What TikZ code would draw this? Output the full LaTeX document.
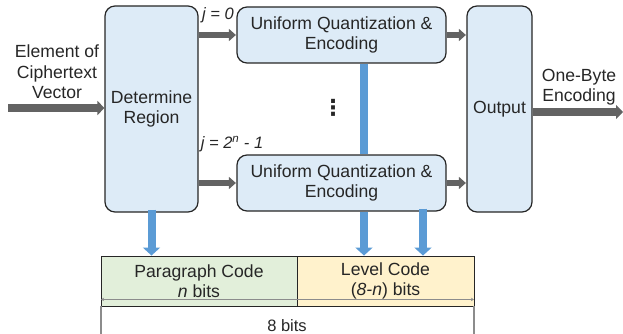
\documentclass[tikz,border=0pt]{standalone}
\usepackage{fontspec}
\setmainfont{Liberation Sans}
\newfontfamily\symfont{DejaVu Sans}
\usetikzlibrary{arrows.meta}

\definecolor{boxfill}{HTML}{DDEBF7}
\definecolor{boxline}{HTML}{262626}
\definecolor{flowgray}{HTML}{636363}
\definecolor{flowblue}{HTML}{5B9BD5}
\definecolor{codegreen}{HTML}{E2EFDA}
\definecolor{codeyellow}{HTML}{FFF2CC}
\definecolor{dimgray}{HTML}{8C8C8C}

\tikzset{
  blockbox/.style={draw=boxline, fill=boxfill, line width=1.2pt, rounded corners=10pt,
    align=center, inner sep=0pt},
  codebox/.style={draw=boxline, line width=0.9pt, align=center, inner sep=0pt,
    minimum height=50pt},
  grayflow/.style={draw=flowgray, line width=6pt,
    -{Triangle[length=7pt,width=12pt]}, shorten >=0.5pt},
  bigflow/.style={draw=flowgray, line width=8pt,
    -{Triangle[length=7pt,width=14pt]}},
  blueflow/.style={draw=flowblue, line width=8pt,
    -{Triangle[length=8pt,width=17pt]}},
  bluebar/.style={draw=flowblue, line width=8pt},
  dimline/.style={draw=dimgray, line width=0.7pt, {Stealth[length=3pt,width=3.5pt]}-{Stealth[length=3pt,width=3.5pt]}},
  extline/.style={draw=dimgray, line width=1.8pt},
  lbl/.style={align=center, inner sep=0pt},
  every node/.append style={font=\fontsize{17.6}{20.5}\selectfont, text=black!85}
}

\begin{document}
\begin{tikzpicture}[x=1pt, y=-1pt]
\useasboundingbox (0,0) rectangle (623,334);

% main blocks
\node[blockbox, minimum width=93pt, minimum height=206pt] (det) at (151.5,109) {Determine\\Region};
\node[blockbox, minimum width=209pt, minimum height=56pt] (uq1) at (341.5,35) {Uniform Quantization \&\\Encoding};
\node[blockbox, minimum width=209pt, minimum height=56pt] (uq2) at (341.5,183) {Uniform Quantization \&\\Encoding};
\node[blockbox, minimum width=65pt, minimum height=206pt] (out) at (499.5,109) {Output};

% output code fields
\node[codebox, fill=codegreen, minimum width=196pt] (para) at (199,281) {Paragraph Code\\\textit{n} bits};
\node[codebox, fill=codeyellow, minimum width=177pt] (lvl) at (385.5,281) {Level Code\\(\textit{8-n}) bits};

% labels
\node[lbl] (inlbl) at (57,72) {Element of\\Ciphertext\\Vector};
\node[lbl] (outlbl) at (579,87) {One-Byte\\Encoding};
\node[lbl, font=\fontsize{16.5}{19}\selectfont\itshape] (j0) at (218,15) {j = 0};
\node[lbl, font=\fontsize{16.5}{19}\selectfont\itshape] (jn) at (232,144) {j = 2\textsuperscript{n} - 1};
\node[lbl, font=\fontsize{22}{24}\selectfont\symfont\bfseries] (dots) at (333,108) {⋮};
\node[lbl, font=\fontsize{16.5}{19}\selectfont] (width) at (287,326) {8 bits};

% gray data flow
\coordinate (src) at (8,108);
\coordinate (dst) at (623,112);
\draw[bigflow] (src) -- (src -| det.west);
\draw[grayflow] (det.east |- uq1.west) -- (uq1.west);
\draw[grayflow] (det.east |- uq2.west) -- (uq2.west);
\draw[grayflow] (uq1.east) -- (uq1.east -| out.west);
\draw[grayflow] (uq2.east) -- (uq2.east -| out.west);
\draw[bigflow] (out.east |- dst) -- (dst);

% blue code flow
\coordinate (lvA) at (364,0);
\coordinate (lvB) at (423,0);
\draw[bluebar] (uq1.south -| lvA) -- (uq2.north -| lvA);
\draw[blueflow] ([yshift=3pt]det.south) -- (det.south |- para.north);
\draw[blueflow] (uq2.south -| lvA) -- (para.north -| lvA);
\draw[blueflow] ([yshift=3pt]uq2.south -| lvB) -- (para.north -| lvB);

% width dimension
\coordinate (dimL) at ([xshift=0.5pt]para.south west);
\coordinate (dimR) at ([xshift=-0.5pt]lvl.south east);
\draw[extline] (dimL) -- (dimL |- 0,334);
\draw[extline] (dimR) -- (dimR |- 0,334);
\draw[dimline] ([yshift=7pt]dimL) -- ([yshift=7pt]dimR);
\end{tikzpicture}
\end{document}
